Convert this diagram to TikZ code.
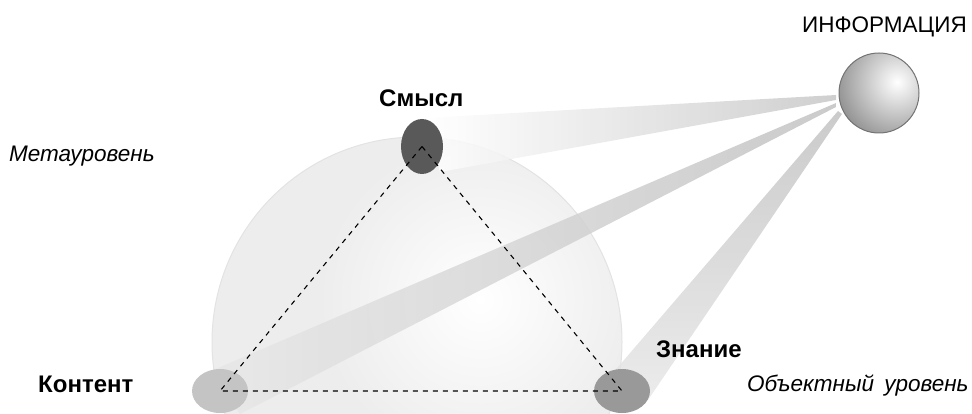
\documentclass[tikz,border=0pt]{standalone}
\usepackage{fontspec}
\setmainfont{Liberation Sans}
\usetikzlibrary{shapes.geometric}
\begin{document}
\begin{tikzpicture}[x=1pt,y=-1pt,
  lbl/.style={font=\fontsize{22.5}{26}\selectfont, anchor=base west, inner sep=0},
  blbl/.style={lbl, font=\fontsize{24}{28}\selectfont\bfseries},
  ilbl/.style={lbl, font=\fontsize{22.5}{26}\selectfont\itshape},
  vert/.style={ellipse, minimum width=56pt, minimum height=44pt, inner sep=0, draw=none},
  link/.style={dash pattern=on 5pt off 5pt, line width=1.1pt},
  beamfade/.style={opacity=0.85}
]
\useasboundingbox (0,0) rectangle (972,414);
% dome
\begin{scope}
\clip (0,0) rectangle (972,414);
\fill[black!7] (417,342) circle[radius=205pt];
\begin{scope}
\clip (417,342) circle[radius=205pt];
\shade[inner color=white, outer color=black!7] (480,300) circle[radius=160pt];
\end{scope}
\draw[black!11, line width=1pt] (417,342) circle[radius=205pt];
\end{scope}
% beams
\shade[beamfade, left color=white, right color=black!22] (836,95) -- (425,118) -- (440,172) -- (836,100) -- cycle;
\shade[beamfade, left color=black!9, right color=black!24] (836,103) -- (211,371) -- (240,414) -- (836,107) -- cycle;
\shade[beamfade, top color=black!24, bottom color=black!9] (838,111) -- (612,374) -- (648,400) -- (842,114) -- cycle;
% sphere
\node[circle, minimum size=80pt, inner sep=0] (info) at (879,93) {};
\begin{scope}
\clip (879,93) circle[radius=40pt];
\shade[inner color=white, outer color=black!45] (897,82) circle[radius=65pt];
\end{scope}
\draw[black!55, line width=1pt] (info) circle[radius=40pt];
% vertices
\node[vert, fill=black!65, minimum width=42pt, minimum height=55pt] (smysl) at (422,146.5) {};
\node[vert, fill=black!23] (kont) at (220,391) {};
\node[vert, fill=black!40] (znan) at (622,391) {};
\draw[link] (smysl.center) -- (kont.center) -- (znan.center) -- cycle;
% labels
\node[lbl] (infot) at (802,33) {ИНФОРМАЦИЯ};
\node[blbl] (smyslt) at (379,107) {Смысл};
\node[ilbl] (meta) at (9,162) {Метауровень};
\node[blbl] (kontt) at (38,392) {Контент};
\node[blbl] (znant) at (656,357) {Знание};
\node[ilbl] (obj) at (747,391) {Объектный\hspace{0.45em}уровень};
\end{tikzpicture}
\end{document}
